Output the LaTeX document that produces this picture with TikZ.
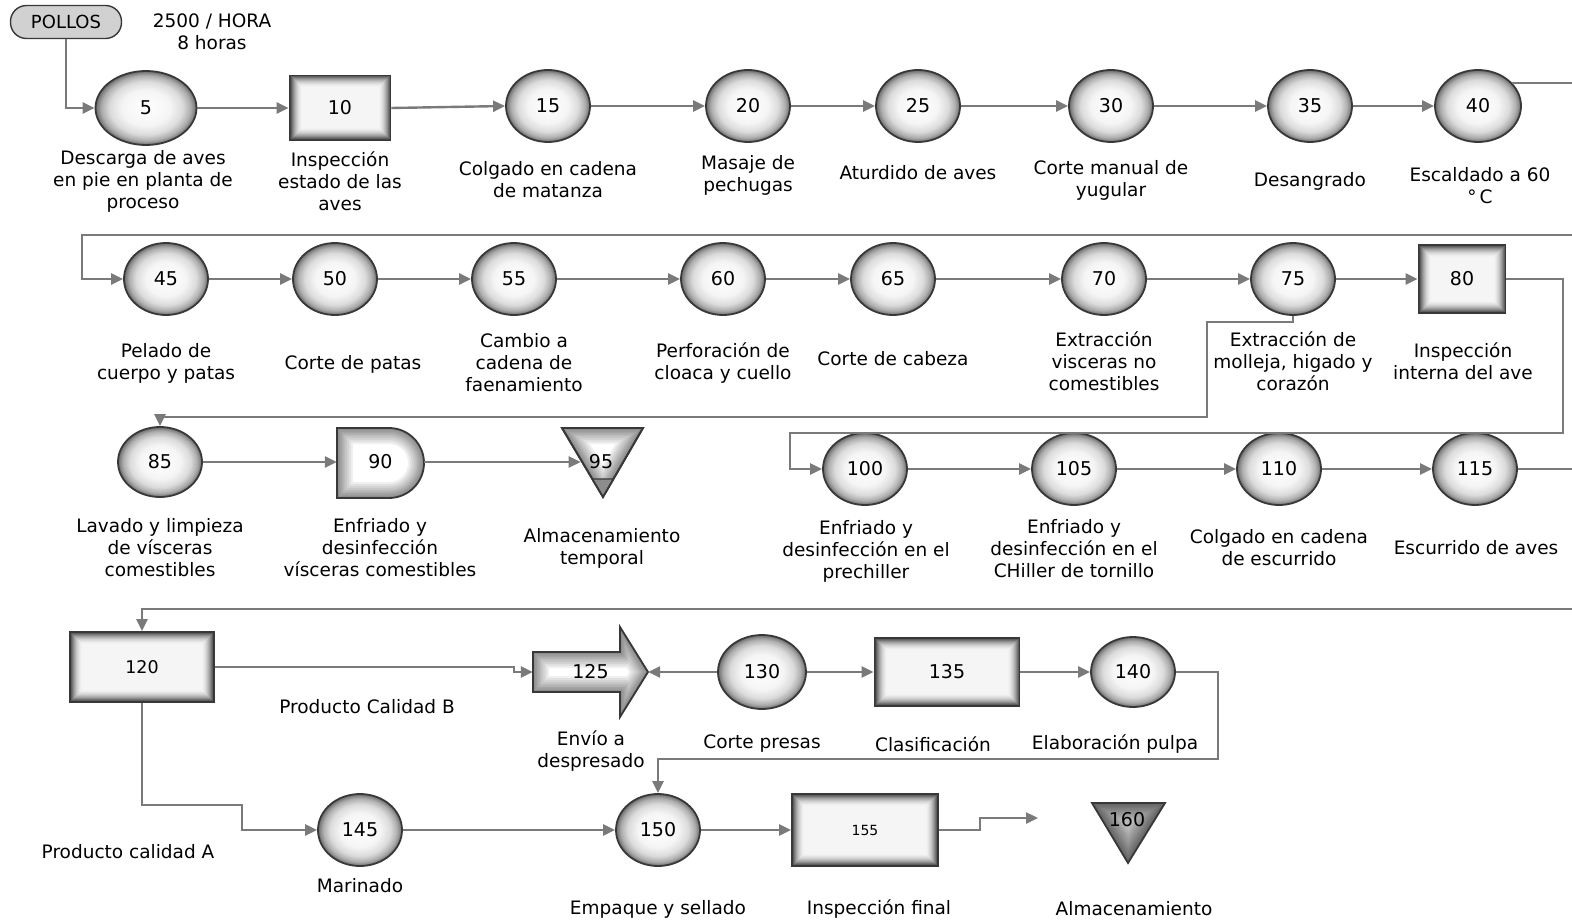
\documentclass[tikz,border=0pt]{standalone}
\usepackage{fontspec}
\setmainfont{DejaVu Sans}
\usetikzlibrary{shapes.geometric,arrows.meta,calc}
\definecolor{conncol}{HTML}{7A7A7A}
\definecolor{edgecol}{HTML}{383838}
\pgfdeclareradialshading{ballglow}{\pgfpoint{0bp}{0bp}}{color(0bp)=(white); color(12bp)=(black!4); color(18bp)=(black!14); color(22bp)=(black!32); color(25bp)=(black!58); color(50bp)=(black!58)}
\newcommand\numf{\fontsize{19}{22}\selectfont}
\newcommand\lblf{\fontsize{18.5}{22}\selectfont}
\tikzset{
  conn/.style={draw=conncol, line width=2.4pt, -{Triangle[length=12pt,width=11pt]}},
  ell/.style={ellipse, draw=edgecol, line width=1.8pt, shade, shading=ballglow,
    minimum width=84pt, minimum height=72pt, inner sep=0pt, font=\numf},
  boxglow/.style={rectangle, draw=edgecol, line width=1.8pt, inner sep=0pt, font=\numf,
    path picture={
      \foreach \i [evaluate=\i as \c using int(4+70*(1-\i/13)^2)] in {0,...,13}{
        \fill[black!\c] ([shift={(\i*1.0pt,\i*1.0pt)}]path picture bounding box.south west)
          rectangle ([shift={(-\i*1.0pt,-\i*1.0pt)}]path picture bounding box.north east);
      }}},
  lbl/.style={align=center, font=\lblf, inner sep=0pt},
  shapeedge/.style={draw=edgecol, line width=1.8pt},
}
\newcommand\glowpath[2]{%
  \fill[#1] #2;
  \begin{scope}\clip #2;
    \foreach \w in {32pt,28pt,24pt,20pt,16pt,13pt,10pt,7pt,4pt,2pt}{\draw[line width=\w, black, opacity=0.06] #2;}
  \end{scope}
  \draw[shapeedge] #2;}
\begin{document}
\begin{tikzpicture}[x=1pt,y=-1pt]
\useasboundingbox (0,0) rectangle (1572,923);
\clip (0,0) rectangle (1572,923);
\fill[white] (0,0) rectangle (1572,923);

% start
\node[draw=edgecol, line width=1.4pt, fill=black!18, rounded corners=16pt,
  minimum width=111pt, minimum height=33pt, inner sep=0pt, font=\fontsize{18}{20}\selectfont] (pollos) at (66,22) {POLLOS};
\node[lbl] (rate) at (212,32) {2500 / HORA\\8 horas};

% row 1
\node[ell, minimum width=101pt, minimum height=74pt] (n5) at (146,108) {5};
\node[boxglow, minimum width=101pt, minimum height=65pt] (n10) at (340,108) {10};
\node[ell] (n15) at (548,106) {15};
\node[ell] (n20) at (748,106) {20};
\node[ell] (n25) at (918,106) {25};
\node[ell] (n30) at (1111,106) {30};
\node[ell] (n35) at (1310,106) {35};
\node[ell, minimum width=86pt] (n40) at (1478,106) {40};

\node[lbl] (l5) at (143,181) {Descarga de aves\\en pie en planta de\\proceso};
\node[lbl] (l10) at (340,181) {Inspección\\estado de las\\aves};
\node[lbl] (l15) at (548,180) {Colgado en cadena\\de matanza};
\node[lbl] (l20) at (748,175) {Masaje de\\pechugas};
\node[lbl] (l25) at (918,173) {Aturdido de aves};
\node[lbl] (l30) at (1111,180) {Corte manual de\\yugular};
\node[lbl] (l35) at (1310,181) {Desangrado};
\node[lbl] (l40) at (1480,186) {Escaldado a 60\\°\,C};

\draw[conn] (pollos.south) |- (n5.west);
\draw[conn] (n5.east) -- (n10.west);
\draw[conn] (n10.east) -- (n15.west);
\draw[conn] (n15) -- (n20);
\draw[conn] (n20) -- (n25);
\draw[conn] (n25) -- (n30);
\draw[conn] (n30) -- (n35);
\draw[conn] (n35) -- (n40);

% row 2
\node[ell] (n45) at (166,279) {45};
\node[ell] (n50) at (335,279) {50};
\node[ell] (n55) at (514,279) {55};
\node[ell] (n60) at (723,279) {60};
\node[ell] (n65) at (893,279) {65};
\node[ell] (n70) at (1104,279) {70};
\node[ell] (n75) at (1293,279) {75};
\node[boxglow, minimum width=87pt, minimum height=68pt] (n80) at (1462,279) {80};

\node[lbl] (l45) at (166,363) {Pelado de\\cuerpo y patas};
\node[lbl] (l50) at (353,364) {Corte de patas};
\node[lbl] (l55) at (524,363) {Cambio a\\cadena de\\faenamiento};
\node[lbl] (l60) at (723,363) {Perforación de\\cloaca y cuello};
\node[lbl] (l65) at (893,359) {Corte de cabeza};
\node[lbl] (l70) at (1104,361) {Extracción\\visceras no\\comestibles};
\node[lbl] (l75) at (1293,361) {Extracción de\\molleja, higado y\\corazón};
\node[lbl] (l80) at (1463,361) {Inspección\\interna del ave};

\draw[conn] (n40.34) -- ++(90,0) |- (82,235) |- (n45.west);
\draw[conn] (n45) -- (n50);
\draw[conn] (n50) -- (n55);
\draw[conn] (n55) -- (n60);
\draw[conn] (n60) -- (n65);
\draw[conn] (n65) -- (n70);
\draw[conn] (n70) -- (n75);
\draw[conn] (n75.east) -- (n80.west);

% row 3 left
\node[ell, minimum height=70pt] (n85) at (160,462) {85};
\glowpath{white}{(337,428) -- (389,428)
  .. controls (408.3,428) and (424,443.7) .. (424,463)
  .. controls (424,482.3) and (408.3,498) .. (389,498) -- (337,498) -- cycle}
\node[minimum width=87pt, minimum height=70pt, inner sep=0pt, font=\numf] (n90) at (380.5,462) {90};
\glowpath{white}{(562,428) -- (643,428) -- (603,497) -- cycle}
\filldraw[fill=black!45, draw=edgecol, line width=1.2pt] (592.3,479) -- (613.4,479) -- (603,497) -- cycle;
\draw[shapeedge] (562,428) -- (643,428) -- (603,497) -- cycle;
\node[font=\numf, inner xsep=8pt, inner ysep=1pt] (n95) at (601,462) {95};

\node[lbl] (l85) at (160,548) {Lavado y limpieza\\de vísceras\\comestibles};
\node[lbl] (l90) at (380,548) {Enfriado y\\desinfección\\vísceras comestibles};
\node[lbl] (l95) at (602,548) {Almacenamiento\\temporal};

\draw[conn] (n75.south) -- ++(0,6) -| (1207,417) -| (n85.north);
\draw[conn] (n85.east) -- (n90.west);
\draw[conn] (n90.east) -- (n95.west);

% row 3 right
\node[ell] (n100) at (865,469) {100};
\node[ell] (n105) at (1074,469) {105};
\node[ell] (n110) at (1279,469) {110};
\node[ell] (n115) at (1475,469) {115};

\node[lbl] (l100) at (866,551) {Enfriado y\\desinfección en el\\prechiller};
\node[lbl] (l105) at (1074,549) {Enfriado y\\desinfección en el\\CHiller de tornillo};
\node[lbl] (l110) at (1279,548) {Colgado en cadena\\de escurrido};
\node[lbl] (l115) at (1476,548) {Escurrido de aves};

\draw[conn] (n80.east) -- (1563,279) |- (790,433) |- (n100.west);
\draw[conn] (n100) -- (n105);
\draw[conn] (n105) -- (n110);
\draw[conn] (n110) -- (n115);

% row 4
\node[boxglow, minimum width=144pt, minimum height=70pt, font=\fontsize{17.5}{20}\selectfont] (n120) at (142,667) {120};
\glowpath{white}{(533,652) -- (620,652) -- (620,627) -- (648,672)
  -- (620,717) -- (620,692) -- (533,692) -- cycle}
\node[minimum width=115pt, minimum height=90pt, inner sep=0pt, font=\numf] (n125) at (590.5,672) {125};
\node[ell, minimum width=88pt, minimum height=74pt] (n130) at (762,672) {130};
\node[boxglow, minimum width=145pt, minimum height=68pt] (n135) at (947,672) {135};
\node[ell, minimum height=70pt] (n140) at (1133,672) {140};

\node[lbl] (lB) at (367,707) {Producto Calidad B};
\node[lbl] (l125) at (591,751) {Envío a\\despresado};
\node[lbl] (l130) at (762,744) {Corte presas};
\node[lbl] (l135) at (933,744) {Clasificación};
\node[lbl] (l140) at (1115,744) {Elaboración pulpa};

\draw[conn] (n115.east) -- (1600,469) |- (142,609) -- (n120.north);
\draw[conn] (n120.east) -| (514,672) -- (n125.west);
\draw[conn] (n130.west) -- (n125.east);
\draw[conn] (n130.east) -- (n135.west);
\draw[conn] (n135.east) -- (n140.west);

% row 5
\node[ell] (n145) at (360,830) {145};
\node[ell] (n150) at (658,830) {150};
\node[boxglow, minimum width=146pt, minimum height=72pt, font=\fontsize{14}{16}\selectfont] (n155) at (865,830) {155};
\glowpath{black!28}{(1092,803) -- (1165,803) -- (1128,863) -- cycle}
\node[font=\numf, inner sep=1pt] (n160) at (1127,820) {160};
\coordinate (e155) at (1038,818);

\node[lbl] (lA) at (128,852) {Producto calidad A};
\node[lbl] (l145) at (360,886) {Marinado};
\node[lbl] (l150) at (658,909) {Empaque y sellado};
\node[lbl] (l155) at (879,909) {Inspección final};
\node[lbl] (l160) at (1134,909) {Almacenamiento};

\draw[conn] (n140.east) -| (1218,759) -| (n150.north);
\draw[conn] (n120.south) |- (242,805) |- (n145.west);
\draw[conn] (n145.east) -- (n150.west);
\draw[conn] (n150.east) -- (n155.west);
\draw[conn] (n155.east) -| (980,818) -- (e155);
\end{tikzpicture}
\end{document}
